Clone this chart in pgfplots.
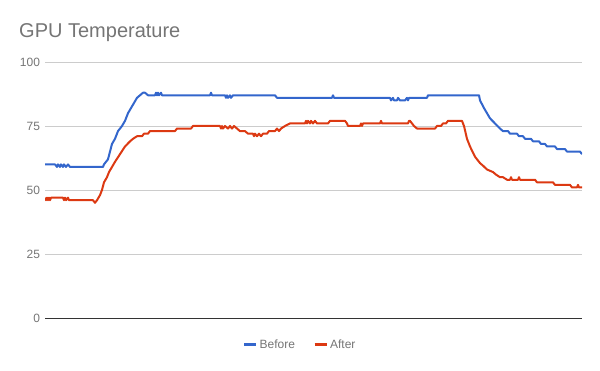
\documentclass[border=0pt]{standalone}
\usepackage{pgfplots}
\pgfplotsset{compat=1.18}
\usepackage{fontspec}
\setmainfont{Liberation Sans}
\definecolor{cblue}{HTML}{3366CC}
\definecolor{cred}{HTML}{DC3912}
\definecolor{tgray}{HTML}{757575}
\definecolor{ggray}{HTML}{CCCCCC}
\begin{document}
\begin{tikzpicture}
\path[use as bounding box] (0pt,0pt) rectangle (600pt,371pt);
\node[anchor=base west, text=tgray, font=\fontsize{20}{24}\selectfont, inner sep=0pt] at (19pt,333pt) {GPU Temperature};
\begin{axis}[
  at={(45pt,53pt)}, anchor=south west, scale only axis,
  width=537pt, height=256pt,
  xmin=0, xmax=537, ymin=0, ymax=100,
  ytick={25,50,75,100}, xtick=\empty,
  extra y ticks={0},
  extra y tick style={grid style={draw=black!80, line width=0.9pt}},
  ymajorgrids, grid style={ggray, line width=0.8pt},
  axis line style={draw=none},
  major tick length=0pt,
  tick label style={text=tgray, font=\fontsize{12}{14}\selectfont},
  yticklabel style={xshift=-1.5pt},
  /pgf/number format/assume math mode=true,
  legend columns=2,
  legend image code/.code={\draw[line width=3pt] (-5pt,0pt) -- (7pt,0pt);},
  legend style={draw=none, fill=none, at={(0.475,-0.105)}, anchor=center,
    font=\fontsize{12}{14}\selectfont, text=tgray,
    /tikz/every even column/.append style={column sep=16pt}},
  every axis plot/.append style={line width=2pt, line join=round},
]
\addplot[cblue, mark=none] coordinates {
(0,60) (10,60) (12,59) (13,60) (15,59) (16,60) (18,59) (19,60) (21,59) (23,60) (25,59)
(58,59) (59,60) (61,61) (63,62) (65,65) (67,68) (70,70) (73,73) (77,75) (80,77) (83,80)
(86,82) (89,84) (92,86) (95,87) (98,88) (100,88) (103,87) (110,87) (111,88) (112,87)
(113,88) (114,87) (116,88) (117,87) (120,87) (165,87) (166,88) (167,87) (180,87)
(181,86) (182,87) (183,86) (185,87) (186,86) (188,87) (230,87) (232,86) (287,86)
(288,87) (289,86) (345,86) (346,85) (348,86) (349,85) (352,85) (353,86) (355,85)
(360,85) (362,86) (363,85) (364,86) (382,86) (383,87) (434,87) (435,85) (439,82)
(442,80) (445,78) (450,76) (455,74) (458,73) (463,73) (465,72) (472,72) (474,71)
(478,71) (480,70) (486,70) (488,69) (494,69) (496,68) (500,68) (502,67) (510,67)
(512,66) (520,66) (522,65) (535,65) (537,64)
};
\addlegendentry{Before}
\addplot[cred, mark=none] coordinates {
(0,47) (1,46) (2,47) (3,46) (4,47) (5,46) (6,47) (18,47) (19,46) (20,47) (21,46)
(23,47) (24,46) (48,46) (50,45) (52,46) (55,48) (57,50) (59,53) (62,55) (64,57)
(67,59) (70,61) (75,64) (80,67) (85,69) (88,70) (92,71) (97,71) (99,72) (103,72)
(105,73) (130,73) (132,74) (146,74) (148,75) (175,75) (176,74) (177,75) (178,74)
(180,75) (183,74) (185,75) (187,74) (189,75) (192,74) (195,73) (200,73) (203,72)
(208,72) (209,71) (210,72) (212,71) (214,72) (216,71) (218,72) (222,72) (224,73)
(230,73) (232,74) (234,73) (236,74) (240,75) (245,76) (260,76) (261,77) (262,76)
(263,77) (265,76) (266,77) (268,76) (270,77) (272,76) (283,76) (285,77) (300,77)
(302,76) (303,75) (315,75) (316,76) (317,75) (318,76) (335,76) (336,77) (337,76)
(363,76) (364,77) (365,77) (367,76) (369,75) (372,74) (390,74) (392,75) (396,75)
(398,76) (401,76) (403,77) (417,77) (419,75) (422,70) (425,67) (430,63) (435,60.5)
(438,59.5) (442,58) (445,57.5) (448,57) (451,56) (455,55) (458,55) (460,54.5)
(462,54) (465,54) (466,55) (467,54) (473,54) (474,55) (475,54) (490,54) (492,53)
(508,53) (510,52) (525,52) (527,51) (532,51) (533,52) (534,51) (537,51)
};
\addlegendentry{After}
\end{axis}
\end{tikzpicture}
\end{document}
